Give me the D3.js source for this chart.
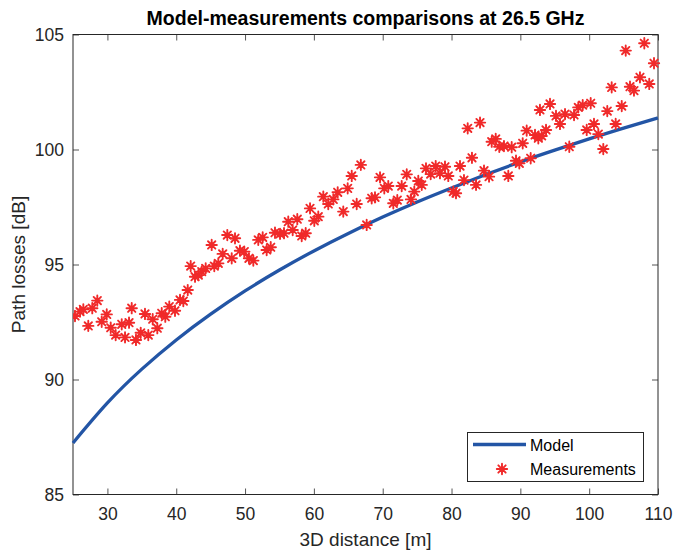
<!DOCTYPE html>
<html>
<head>
<meta charset="utf-8">
<script src="https://cdn.jsdelivr.net/npm/d3@7"></script>
<style>
  html, body { margin: 0; padding: 0; background: #fff; }
  svg { display: block; font-family: "Liberation Sans", Arial, Helvetica, sans-serif; }
</style>
</head>
<body>
<svg id="chart" width="673" height="550"></svg>
<script>
// ---- data ----
const titleText = "Model-measurements comparisons at 26.5 GHz";
const xLabel = "3D distance [m]";
const yLabel = "Path losses [dB]";
const seriesNames = ["Model", "Measurements"];

const xTicks = [30, 40, 50, 60, 70, 80, 90, 100, 110];
const yTicks = [85, 90, 95, 100, 105];

const modelDistance = [25, 30, 35, 40, 45, 50, 55, 60, 65, 70, 75, 80, 85, 90, 95, 100, 105, 110];
const modelLoss = [87.24, 88.98, 90.45, 91.72, 92.84, 93.85, 94.76, 95.59, 96.35, 97.06,
                   97.72, 98.33, 98.91, 99.46, 99.97, 100.46, 100.93, 101.37];

const measDistance = [
  25.29, 26.02, 26.50, 27.22, 27.80, 28.53, 29.17, 29.90, 30.48, 31.20,
  32.08, 32.56, 33.14, 33.53, 34.15, 34.84, 35.46, 35.94, 36.58, 37.25,
  37.89, 38.41, 38.99, 39.82, 40.55, 41.03, 41.67, 42.10, 42.73, 43.21,
  43.70, 44.28, 45.15, 45.53, 46.11, 46.75, 47.42, 48.06, 48.54, 49.26,
  49.89, 50.57, 51.20, 51.92, 52.56, 53.14, 53.73, 54.35, 55.08, 55.66,
  56.28, 56.92, 57.59, 58.23, 58.81, 59.44, 60.06, 60.64, 61.37, 62.09,
  62.82, 63.46, 64.27, 64.91, 65.50, 66.22, 66.82, 67.67, 68.40, 68.88,
  69.61, 70.23, 70.81, 71.54, 72.12, 72.76, 73.49, 74.11, 74.59, 75.17,
  75.67, 76.29, 76.97, 77.70, 78.32, 79.05, 79.53, 80.26, 80.65, 81.23,
  81.81, 82.35, 82.97, 83.56, 84.14, 84.72, 85.45, 85.84, 86.42, 86.94,
  87.62, 88.25, 88.74, 89.37, 89.85, 90.34, 90.92, 91.50, 92.13, 92.61,
  92.85, 93.10, 93.73, 94.31, 95.18, 95.76, 96.49, 97.11, 97.80, 98.42,
  99.06, 99.64, 100.22, 100.70, 101.33, 102.05, 102.63, 103.27, 103.85, 104.73,
  105.31, 105.93, 106.51, 107.38, 108.01, 108.73, 109.42
];
const measLoss = [
  92.76, 92.95, 93.05, 92.33, 93.10, 93.43, 92.51, 92.83, 92.25, 91.93,
  92.40, 91.83, 92.47, 93.10, 91.72, 92.03, 92.85, 91.93, 92.62, 92.23,
  92.88, 92.73, 93.17, 92.99, 93.46, 93.41, 93.89, 94.93, 94.47, 94.54,
  94.69, 94.83, 95.85, 94.93, 95.05, 95.46, 96.28, 95.27, 96.14, 95.60,
  95.56, 95.27, 95.17, 96.07, 96.18, 95.63, 95.75, 96.38, 96.33, 96.36,
  96.86, 96.50, 96.97, 96.24, 96.36, 97.44, 96.90, 97.08, 97.95, 97.63,
  97.83, 98.14, 97.30, 98.31, 98.85, 97.63, 99.33, 96.72, 97.88, 97.92,
  98.79, 98.31, 98.41, 97.66, 97.80, 98.41, 98.92, 97.83, 98.17, 98.63,
  98.46, 99.18, 98.93, 99.28, 98.97, 99.25, 98.85, 98.17, 98.10, 99.28,
  98.67, 100.92, 99.64, 98.46, 101.17, 99.08, 98.82, 100.34, 100.46, 100.12,
  100.15, 98.85, 100.10, 99.51, 99.40, 100.27, 100.82, 99.62, 100.63, 100.49,
  101.72, 100.59, 100.85, 101.98, 101.46, 101.11, 101.54, 100.12, 101.50, 101.83,
  101.93, 100.85, 102.01, 101.11, 100.67, 100.02, 101.67, 102.70, 101.11, 101.89,
  104.30, 102.73, 102.56, 103.14, 104.62, 102.85, 103.75
];

(function () {
// ---- layout ----
const svg = d3.select("#chart");
const mLeft = 73, mRight = 658, mTop = 34.5, mBottom = 494.5;
const textColor = "#262626";
const axisColor = "#262626";
const blue = "#2355a5";
const red = "#f02a2a";

const x = d3.scaleLinear().domain([25, 110]).range([mLeft, mRight]);
const y = d3.scaleLinear().domain([85, 105]).range([mBottom, mTop]);

function styleAxis(g, showLabels) {
  g.select(".domain").remove();
  g.selectAll(".tick line").attr("stroke", "#555").attr("stroke-width", 1);
  g.selectAll(".tick text")
    .attr("fill", textColor)
    .style("font-size", "17.5px")
    .style("font-family", "'Liberation Sans', Arial, sans-serif");
  if (!showLabels) g.selectAll(".tick text").remove();
}

svg.append("g").attr("transform", `translate(0,${mBottom})`)
  .call(d3.axisBottom(x).tickValues(xTicks).tickSizeInner(-6).tickSizeOuter(0).tickPadding(13).tickFormat(d3.format("d")))
  .call(g => styleAxis(g, true));
svg.append("g").attr("transform", `translate(0,${mTop})`)
  .call(d3.axisTop(x).tickValues(xTicks).tickSizeInner(-6).tickSizeOuter(0))
  .call(g => styleAxis(g, false));
svg.append("g").attr("transform", `translate(${mLeft},0)`)
  .call(d3.axisLeft(y).tickValues(yTicks).tickSizeInner(-6).tickSizeOuter(0).tickPadding(9).tickFormat(d3.format("d")))
  .call(g => styleAxis(g, true));
svg.append("g").attr("transform", `translate(${mRight},0)`)
  .call(d3.axisRight(y).tickValues(yTicks).tickSizeInner(-6).tickSizeOuter(0))
  .call(g => styleAxis(g, false));

svg.append("rect")
  .attr("x", mLeft).attr("y", mTop)
  .attr("width", mRight - mLeft).attr("height", mBottom - mTop)
  .attr("fill", "none").attr("stroke", axisColor).attr("stroke-width", 1);

svg.append("clipPath").attr("id", "clip")
  .append("rect").attr("x", mLeft).attr("y", mTop - 8).attr("width", mRight - mLeft + 8).attr("height", mBottom - mTop + 8);

const modelPts = modelDistance.map((d, i) => [d, modelLoss[i]]);
svg.append("path")
  .datum(modelPts)
  .attr("fill", "none")
  .attr("stroke", blue)
  .attr("stroke-width", 3.3)
  .attr("stroke-linejoin", "round")
  .attr("d", d3.line().x(d => x(d[0])).y(d => y(d[1])).curve(d3.curveNatural));

function asterisk(g, cx, cy, r) {
  const a = r * Math.SQRT1_2;
  g.append("path")
    .attr("d", `M${cx - r},${cy}L${cx + r},${cy}M${cx},${cy - r}L${cx},${cy + r}` +
               `M${cx - a},${cy - a}L${cx + a},${cy + a}M${cx - a},${cy + a}L${cx + a},${cy - a}`)
    .attr("stroke", red).attr("stroke-width", 1.9).attr("fill", "none")
    .attr("stroke-linecap", "round");
}
const meas = svg.append("g").attr("clip-path", "url(#clip)");
measDistance.forEach((d, i) => asterisk(meas, x(d), y(measLoss[i]), 5.2));

svg.append("text")
  .attr("x", (mLeft + mRight) / 2).attr("y", 25)
  .attr("text-anchor", "middle")
  .attr("fill", "#000")
  .style("font-size", "19.5px").style("font-weight", "bold")
  .text(titleText);

svg.append("text")
  .attr("x", (mLeft + mRight) / 2).attr("y", 546)
  .attr("text-anchor", "middle")
  .attr("fill", textColor)
  .style("font-size", "19px")
  .text(xLabel);

svg.append("text")
  .attr("transform", `translate(25,${(mTop + mBottom) / 2}) rotate(-90)`)
  .attr("text-anchor", "middle")
  .attr("fill", textColor)
  .style("font-size", "19px")
  .text(yLabel);

const lg = svg.append("g");
lg.append("rect")
  .attr("x", 467.5).attr("y", 432.5).attr("width", 176).attr("height", 49)
  .attr("fill", "#fff").attr("stroke", axisColor).attr("stroke-width", 1);
lg.append("line")
  .attr("x1", 473).attr("x2", 526).attr("y1", 444.5).attr("y2", 444.5)
  .attr("stroke", blue).attr("stroke-width", 3.3);
lg.append("text").attr("x", 530).attr("y", 450.5)
  .attr("fill", "#000").style("font-size", "16px").text(seriesNames[0]);
asterisk(lg, 502, 469, 5.2);
lg.append("text").attr("x", 530).attr("y", 475)
  .attr("fill", "#000").style("font-size", "16px").text(seriesNames[1]);
})();
</script>
</body>
</html>
